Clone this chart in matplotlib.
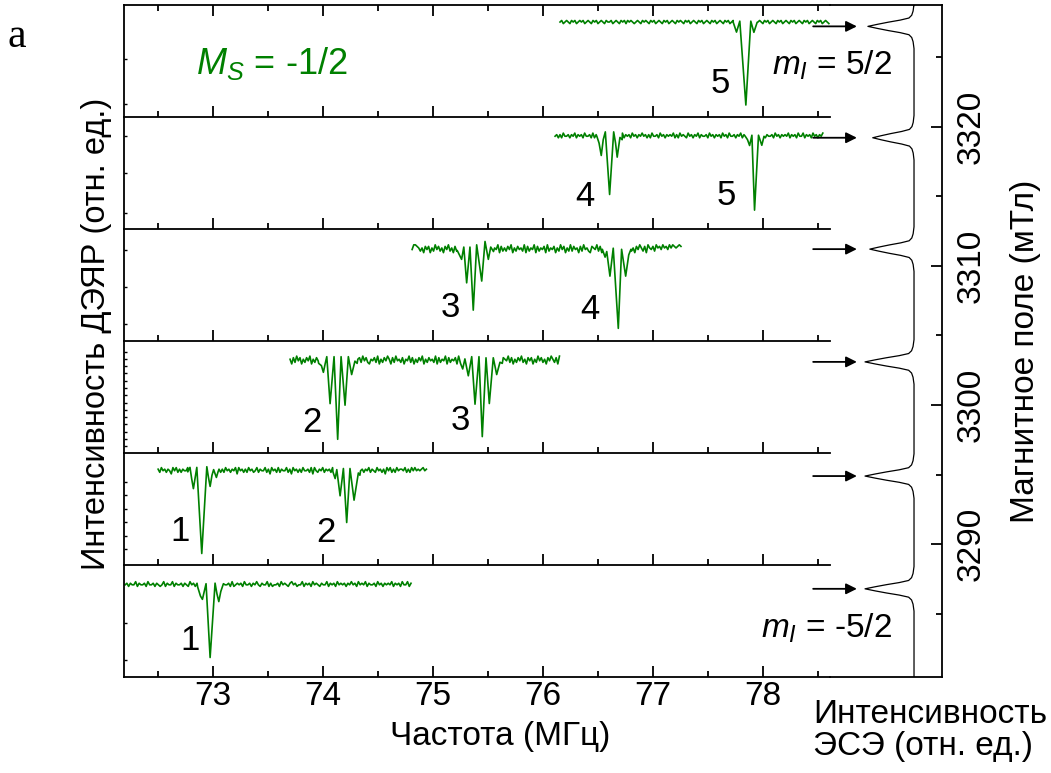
import numpy as np
import matplotlib
matplotlib.use('Agg')
import matplotlib.pyplot as plt
from matplotlib.ticker import MultipleLocator

plt.rcParams['font.family'] = ['Liberation Sans', 'DejaVu Sans']
plt.rcParams['mathtext.fontset'] = 'custom'
plt.rcParams['mathtext.rm'] = 'Liberation Sans'
plt.rcParams['mathtext.it'] = 'Liberation Sans:italic'

GREEN = '#008000'
FS = 24

freq_lim = (72.19, 78.61)
field_lim = (3280.5, 3328.7)
field_ticks = [3290, 3300, 3310, 3320]
field_minor = [3285, 3295, 3305, 3315, 3325]

# ENDOR spectra, bottom panel (mI = -5/2) first
spec_start = [72.20, 72.50, 73.70, 74.81, 76.11, 76.155]
spec_end = [74.80, 74.94, 76.15, 77.255, 78.545, 78.60]
spec_base = [0.82, 0.84, 0.823, 0.818, 0.831, 0.852]

# baseline noise read as digits, value = digit - 3 (units of noise_scale)
noise1 = ("3424335243 3425334243 2352433524 3342432534 2433425343 2343524334 2523434253 "
          "3424353243 3524233425 3432453423 3524342534 3243352434 2534342435 3425343524 "
          "3342534243 4352434253 3524")
noise2 = ("4253424315 3524243352 4153425243 3524153424 2534243515 3424253423 5243352415 "
          "3425243352 4153424253 3425153243 5243425315 3424253524 3153424352 4325342415 "
          "3524253443 5242535343 4534")
noise3 = ("4152635142 5361425304 2516342514 3625143526 1452635214 3526142536 4152634251 "
          "4362514253 6142534261 5243615243 5162435142 6351426253 4152634215 4362514253 "
          "6241535142 6352415364 2516")
noise4 = ("3665424153 5142635241 5362415243 6152436251 4253614252 4361524253 6142534261 "
          "5243615243 5162435142 6351426253 4152634215 4362514253 6241535142 6352415364 "
          "2516435264 5364536465 4565")
noise5 = ("3424253342 4352434253 3425243352 4342534243 3524342534 2435342425 3342534243 "
          "4352425343 2534243524 3342534243 4253425334 2435243524 3425343524 3342534243 "
          "4352434253 3524342534 2435")
noise6 = ("3423432434 2343423432 4342343243 3423432434 2434323432 4343243423 4324342343 "
          "2434324342 3432434234 3243423432 4342343243 4234324342 3432434234 3243423432 "
          "4342343243 4234324342 3432")
noises = [noise1, noise2, noise3, noise4, noise5, noise6]
noise_scale = 0.014

# line groups (freq MHz, rel. intensity)
peaks1 = [[(72.86, 0.80), (72.885, 0.72), (72.903, 0.69), (72.92, 0.76), (72.936, 0.83),
           (72.973, 0.17), (73.018, 0.835), (73.035, 0.74), (73.052, 0.67),
           (73.07, 0.76), (73.094, 0.83)]]
peaks2 = [[(72.77, 0.83), (72.79, 0.87), (72.805, 0.77), (72.821, 0.68), (72.84, 0.80),
           (72.852, 0.87), (72.897, 0.10), (72.943, 0.876), (72.958, 0.78),
           (72.973, 0.70), (72.99, 0.80), (73.005, 0.85), (73.03, 0.78), (73.045, 0.83)],
          [(74.09, 0.83), (74.11, 0.77), (74.125, 0.85), (74.155, 0.616), (74.185, 0.86),
           (74.215, 0.377), (74.245, 0.86), (74.282, 0.577), (74.321, 0.82),
           (74.335, 0.80)]]
peaks3 = [[(73.96, 0.80), (73.985, 0.78), (74.003, 0.72), (74.02, 0.80), (74.034, 0.86),
           (74.064, 0.44), (74.10, 0.86), (74.133, 0.121), (74.164, 0.86),
           (74.20, 0.426), (74.23, 0.86), (74.26, 0.70), (74.29, 0.82), (74.31, 0.80)],
          [(75.25, 0.80), (75.27, 0.75), (75.29, 0.84), (75.321, 0.689), (75.352, 0.86),
           (75.382, 0.435), (75.418, 0.86), (75.448, 0.145), (75.482, 0.85),
           (75.512, 0.441), (75.548, 0.85), (75.579, 0.70), (75.609, 0.81), (75.63, 0.80)]]
peaks4 = [[(75.22, 0.81), (75.24, 0.77), (75.26, 0.73), (75.28, 0.84), (75.306, 0.52),
           (75.336, 0.84), (75.366, 0.276), (75.397, 0.86), (75.443, 0.536),
           (75.473, 0.89), (75.503, 0.73), (75.525, 0.84), (75.55, 0.80)],
          [(76.54, 0.82), (76.565, 0.75), (76.58, 0.80), (76.609, 0.58), (76.639, 0.83),
           (76.685, 0.113), (76.715, 0.82), (76.752, 0.58), (76.78, 0.77), (76.80, 0.82)]]
peaks5 = [[(76.49, 0.83), (76.51, 0.77), (76.53, 0.659), (76.548, 0.80), (76.567, 0.87),
           (76.606, 0.31), (76.643, 0.87), (76.66, 0.77), (76.675, 0.644),
           (76.70, 0.82), (76.72, 0.80)],
          [(77.84, 0.83), (77.86, 0.80), (77.879, 0.748), (77.90, 0.84), (77.924, 0.17),
           (77.96, 0.84), (77.99, 0.75), (78.01, 0.83)]]
peaks6 = [[(77.73, 0.85), (77.76, 0.762), (77.79, 0.86), (77.845, 0.11), (77.89, 0.86),
           (77.918, 0.76), (77.948, 0.85)]]
peak_groups = [peaks1, peaks2, peaks3, peaks4, peaks5, peaks6]

line_labels = [[('1', 72.79, 0.32)],
               [('1', 72.70, 0.30), ('2', 74.03, 0.29)],
               [('2', 73.90, 0.27), ('3', 75.245, 0.285)],
               [('3', 75.155, 0.30), ('4', 76.427, 0.284)],
               [('4', 76.385, 0.29), ('5', 77.667, 0.304)],
               [('5', 77.61, 0.305)]]

left_ticks = [[0.148, 0.48],
              [0.14, 0.26, 0.38, 0.50, 0.62, 0.74],
              [0.06, 0.125, 0.19, 0.255, 0.32, 0.385, 0.45, 0.515, 0.58, 0.645, 0.71, 0.775, 0.84, 0.905],
              [0.15, 0.48, 0.81],
              [0.147, 0.502, 0.831],
              [0.117, 0.52]]

# ESE spectrum (field mT, intensity)
ese_fields = [3327.2, 3319.2, 3311.2, 3303.1, 3294.9, 3286.8]
ese_heights = [0.96, 0.86, 0.92, 1.02, 1.02, 1.02]
ese_offsets = [-1.6, -1.1, -0.8, -0.6, -0.45, -0.3, -0.15, 0.0, 0.15, 0.3, 0.45, 0.6, 0.8, 1.1, 1.6]
ese_shape = [0.0, 0.02, 0.05, 0.11, 0.3, 0.56, 0.79, 1.0, 0.79, 0.56, 0.3, 0.11, 0.05, 0.02, 0.0]


def build_spectrum(i):
    vals = [int(c) - 3 for c in noises[i].replace(' ', '')]
    xs = np.linspace(spec_start[i], spec_end[i], len(vals))
    ys = spec_base[i] + noise_scale * np.array(vals)
    keep = np.ones(len(xs), bool)
    px, py = [], []
    for g in peak_groups[i]:
        gx = [p[0] for p in g]
        keep &= ~((xs >= min(gx)) & (xs <= max(gx)))
        px += gx
        py += [p[1] for p in g]
    x = np.concatenate([xs[keep], px])
    y = np.concatenate([ys[keep], py])
    order = np.argsort(x)
    return x[order], y[order]


fig = plt.figure(figsize=(10.51, 7.73), dpi=100)

left, right_main, right_all = 0.118, 0.7897, 0.8963
bottom, top = 0.1248, 0.9929
h = (top - bottom) / 6

for i in range(6):
    ax = fig.add_axes([left, bottom + i * h, right_main - left, h])
    ax.patch.set_visible(False)
    x, y = build_spectrum(i)
    ax.plot(x, y, color=GREEN, lw=1.2)
    for txt, tx, ty in line_labels[i]:
        ax.text(tx, ty, txt, fontsize=25, ha='center', va='center')
    ax.set_xlim(freq_lim)
    ax.set_ylim(0, 1)
    ax.xaxis.set_major_locator(MultipleLocator(1))
    ax.xaxis.set_minor_locator(MultipleLocator(0.5))
    ax.set_yticks(left_ticks[i])
    ax.spines['right'].set_visible(False)
    if i < 5:
        ax.spines['top'].set_visible(False)
    for s in ax.spines.values():
        s.set_linewidth(1.3)
    ax.tick_params(axis='x', which='both', direction='in', top=(i == 5), bottom=True,
                   labelbottom=(i == 0), width=1.3, labelsize=FS, pad=3)
    ax.tick_params(axis='x', which='major', length=8)
    ax.tick_params(axis='x', which='minor', length=4.5)
    ax.tick_params(axis='y', direction='in', length=2.5, width=1, labelleft=False)
    if i == 0:
        ax.text(79.17, 0.435, r'$m_I$ = -5/2', fontsize=FS, ha='right', va='center')
    if i == 5:
        ax.text(79.17, 0.466, r'$m_I$ = 5/2', fontsize=FS, ha='right', va='center')
        ax.text(73.536, 0.484, r'$M_S$ = -1/2', fontsize=26, ha='center', va='center',
                color=GREEN)

# ESE panel
ax_e = fig.add_axes([right_main, bottom, right_all - right_main, top - bottom])
ax_e.patch.set_visible(False)
ese_f = [field_lim[0]]
ese_i = [0.0]
for f0, a in sorted(zip(ese_fields, ese_heights)):
    ese_f += [f0 + d for d in ese_offsets]
    ese_i += [a * s for s in ese_shape]
ese_f.append(field_lim[1])
ese_i.append(0.0)
ax_e.plot(ese_i, ese_f, color='black', lw=0.9)
for f0 in ese_fields:
    ax_e.annotate('', xy=(1.19, f0), xytext=(2.10, f0), annotation_clip=False,
                  arrowprops=dict(arrowstyle='-|>', color='black', lw=1.3,
                                  mutation_scale=16, shrinkA=0, shrinkB=0))
ax_e.set_xlim(1.75, -0.583)
ax_e.set_ylim(field_lim)
ax_e.set_xticks([])
ax_e.spines['left'].set_visible(False)
for s in ax_e.spines.values():
    s.set_linewidth(1.3)
ax_e.yaxis.tick_right()
ax_e.set_yticks(field_ticks)
ax_e.set_yticks(field_minor, minor=True)
ax_e.set_yticklabels([str(t) for t in field_ticks], rotation=90, va='center')
ax_e.tick_params(axis='y', which='both', direction='in', left=False, right=True,
                 width=1.3, labelsize=FS, pad=10)
ax_e.tick_params(axis='y', which='major', length=8)
ax_e.tick_params(axis='y', which='minor', length=4.5)

fig.text(0.092, 0.568, 'Интенсивность ДЭЯР (отн. ед.)', rotation=90,
         fontsize=23.5, ha='center', va='center')
fig.text(0.9755, 0.545, 'Магнитное поле (мТл)', rotation=90,
         fontsize=FS, ha='center', va='center')
fig.text(0.4757, 0.0466, 'Частота (МГц)', fontsize=FS, ha='center', va='center')
fig.text(0.7735, 0.0763, 'Интенсивность', fontsize=FS, ha='left', va='center')
fig.text(0.7735, 0.0349, 'ЭСЭ (отн. ед.)', fontsize=FS, ha='left', va='center')
fig.text(0.016, 0.953, 'a', fontsize=30, family='Liberation Serif', ha='center', va='center')

fig.savefig('out.png', dpi=100)
